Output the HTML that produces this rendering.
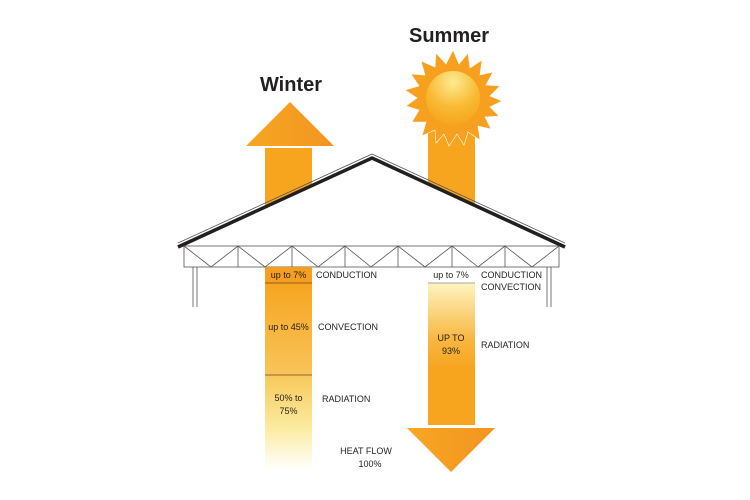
<!DOCTYPE html>
<html><head><style>body{margin:0;background:#fff}svg{display:block}</style></head><body>
<svg width="750" height="500" viewBox="0 0 750 500" xmlns="http://www.w3.org/2000/svg" font-family="Liberation Sans, sans-serif">
<defs>
<linearGradient id="wa" x1="0" x2="1"><stop offset="0" stop-color="#f7a623"/><stop offset="1" stop-color="#f39521"/></linearGradient>
<linearGradient id="w2" x1="0" y1="0" x2="0" y2="1"><stop offset="0" stop-color="#f7a51f"/><stop offset="1" stop-color="#f8c45a"/></linearGradient>
<linearGradient id="w3" x1="0" y1="0" x2="0" y2="1"><stop offset="0" stop-color="#f8c85a"/><stop offset="0.55" stop-color="#fbeba0"/><stop offset="1" stop-color="#ffffff"/></linearGradient>
<linearGradient id="s2" x1="0" y1="0" x2="0" y2="1"><stop offset="0" stop-color="#fdf5c0"/><stop offset="0.4" stop-color="#f8b640"/><stop offset="0.6" stop-color="#f7a51f"/><stop offset="1" stop-color="#f7a51f"/></linearGradient>
<linearGradient id="sa" x1="0" x2="1"><stop offset="0" stop-color="#f7a623"/><stop offset="1" stop-color="#f39521"/></linearGradient>
<radialGradient id="sun" cx="0.5" cy="0.2" r="0.8"><stop offset="0" stop-color="#fcec90"/><stop offset="0.6" stop-color="#f9b933"/><stop offset="1" stop-color="#f7a51f"/></radialGradient>
</defs>
<text x="291" y="91" font-size="20" font-weight="bold" text-anchor="middle" fill="#231f20">Winter</text>
<text x="449" y="42" font-size="20" font-weight="bold" text-anchor="middle" fill="#231f20">Summer</text>
<polygon points="290,102 334,146 246,146" fill="url(#wa)"/>
<rect x="265" y="148" width="47" height="60" fill="#f7a51f"/>
<rect x="428" y="120" width="47" height="90" fill="#f7a51f"/>
<g transform="translate(453,98)">
<polygon fill="#f7a01f" stroke="#fff" stroke-width="0.6" points="
0,-48 6,-34 15,-45 17,-30 29,-38 27,-23 40,-26 33,-13 47,-12 37,-2 49,3 37,9 46,18 32,19 38,31 25,28 27,42 15,34 11,47 4,36 -4,48 -9,36 -17,45 -18,32 -31,38 -27,24 -41,24 -34,12 -47,8 -36,0 -48,-8 -34,-12 -42,-24 -28,-23 -32,-37 -18,-31 -17,-45 -7,-34"/>
<circle r="27" fill="url(#sun)"/>
</g>
<polygon points="178,247 372,158 565,247" fill="#fff"/>
<polyline points="178,243 372,154 565,243" fill="none" stroke="#555" stroke-width="0.8"/>
<polyline points="178,247 372,158 565,247" fill="none" stroke="#231f20" stroke-width="3.5"/>
<g stroke="#555" stroke-width="0.8" fill="none">
<rect x="184" y="246" width="375" height="21"/>
<path d="M238,246V267M292,246V267M345,246V267M398,246V267M452,246V267M505,246V267"/>
<path d="M184,246L211,267L238,246L265,267L292,246L318,267L345,246L371,267L398,246L425,267L452,246L478,267L505,246L532,267L559,246"/>
<path d="M193,267V307M197,267V307M547,267V307M551,267V307"/>
</g>
<rect x="265" y="267" width="47" height="16" fill="#f59e1f"/>
<rect x="265" y="283" width="47" height="92" fill="url(#w2)"/>
<rect x="265" y="375" width="47" height="95" fill="url(#w3)"/>
<line x1="265" y1="283" x2="312" y2="283" stroke="#6b4a1a" stroke-width="0.8"/>
<line x1="265" y1="375" x2="312" y2="375" stroke="#6b4a1a" stroke-width="0.8"/>
<rect x="428" y="283" width="47" height="142" fill="url(#s2)"/>
<line x1="428" y1="283" x2="475" y2="283" stroke="#888" stroke-width="0.8"/>
<polygon points="407,428 495,428 451,472" fill="url(#sa)"/>
<g font-size="9" fill="#231f20">
<text x="288.5" y="278" text-anchor="middle">up to 7%</text>
<text x="316" y="278">CONDUCTION</text>
<text x="288.5" y="330" text-anchor="middle">up to 45%</text>
<text x="318" y="330">CONVECTION</text>
<text x="288.5" y="401" text-anchor="middle">50% to</text>
<text x="288.5" y="414" text-anchor="middle">75%</text>
<text x="322" y="402">RADIATION</text>
<text x="366" y="454" text-anchor="middle">HEAT FLOW</text>
<text x="370" y="467" text-anchor="middle">100%</text>
<text x="451" y="278" text-anchor="middle">up to 7%</text>
<text x="481" y="278">CONDUCTION</text>
<text x="481" y="290">CONVECTION</text>
<text x="451" y="341" text-anchor="middle">UP TO</text>
<text x="451" y="354" text-anchor="middle">93%</text>
<text x="481" y="348">RADIATION</text>
</g>
</svg>
</body></html>
